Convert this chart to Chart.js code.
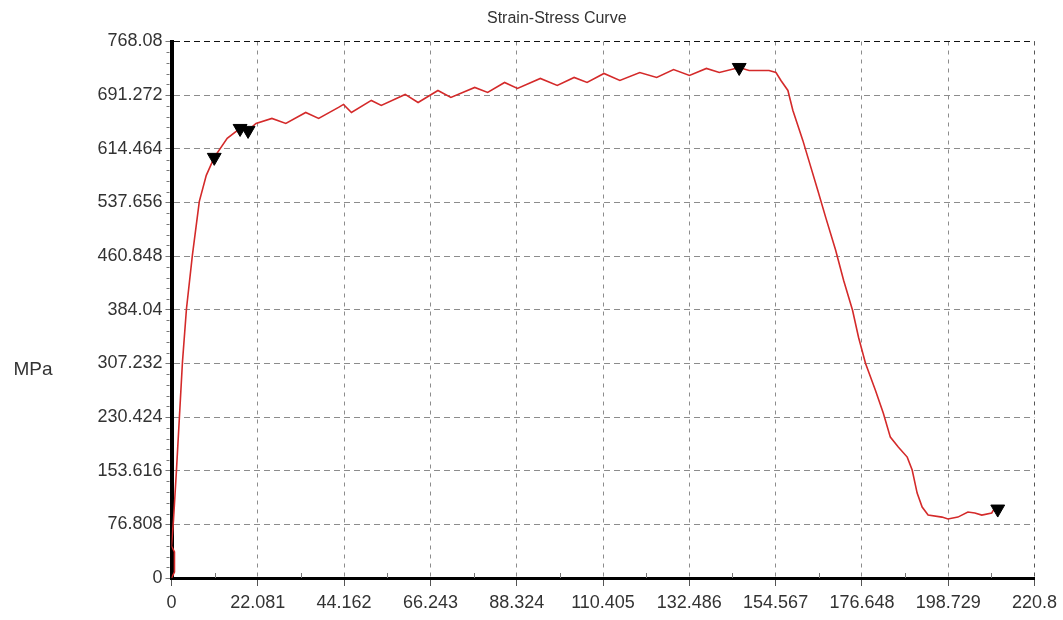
<!DOCTYPE html>
<html><head><meta charset="utf-8">
<script src="https://cdn.jsdelivr.net/npm/chart.js@4/dist/chart.umd.min.js"></script>
<style>html,body{margin:0;padding:0;background:#fff;}#wrap{position:relative;width:1063px;height:620px;}</style>
</head><body><div id="wrap"><canvas id="c" width="1063" height="620"></canvas></div>
<script>
const chartTitle = 'Strain-Stress Curve';
const yAxisLabel = 'MPa';
const xTickValues = [0, 22.081, 44.162, 66.243, 88.324, 110.405, 132.486, 154.567, 176.648, 198.729, 220.8];
const xTickLabels = ['0', '22.081', '44.162', '66.243', '88.324', '110.405', '132.486', '154.567', '176.648', '198.729', '220.8'];
const yTickValues = [0, 76.808, 153.616, 230.424, 307.232, 384.04, 460.848, 537.656, 614.464, 691.272, 768.08];
const yTickLabels = ['0', '76.808', '153.616', '230.424', '307.232', '384.04', '460.848', '537.656', '614.464', '691.272', '768.08'];
const strain = [0, 0.76, 0.76, 0, 0.51, 1.27, 2.04, 2.80, 3.82, 5.34, 7.12, 8.90, 10.94, 14.25, 17.55, 19.59, 21.62, 25.69, 29.25, 34.34, 37.65, 42.74, 44.01, 46.04, 51.13, 53.67, 59.78, 63.09, 68.17, 71.48, 77.59, 80.89, 85.22, 88.52, 94.37, 98.70, 103.02, 106.33, 110.65, 114.72, 119.81, 124.14, 128.46, 132.53, 136.86, 140.16, 145.25, 147.79, 152.88, 154.66, 155.93, 157.71, 158.99, 161.53, 163.06, 165.35, 167.38, 169.93, 171.96, 174.25, 175.78, 177.56, 180.10, 182.13, 183.92, 185.95, 188.24, 189.51, 190.78, 192.06, 193.58, 197.14, 198.67, 201.21, 203.76, 205.54, 207.32, 209.86, 210.63];
const stress = [0, 8.6, 37.2, 45.8, 83.0, 154.5, 231.7, 308.9, 384.8, 462.0, 539.2, 576.4, 602.2, 629.4, 643.6, 640.8, 650.8, 658.0, 650.8, 666.5, 658.0, 673.7, 678.0, 666.5, 683.7, 676.5, 692.3, 680.8, 698.0, 688.0, 702.3, 695.1, 709.4, 700.9, 715.2, 705.1, 716.6, 709.4, 722.3, 712.3, 723.7, 716.6, 728.0, 719.5, 729.5, 723.7, 730.9, 726.6, 726.6, 723.7, 712.3, 698.0, 669.4, 626.5, 597.9, 555.0, 516.3, 469.1, 426.2, 383.3, 344.7, 307.5, 268.9, 236.0, 201.7, 187.4, 173.1, 154.5, 121.6, 101.6, 90.1, 87.2, 84.4, 87.2, 94.4, 93.0, 90.1, 93.0, 100.1];
const markerStrain = [10.94, 17.55, 19.59, 145.25, 211.4];
const markerStress = [602.2, 643.6, 640.8, 730.9, 98.7];

const curvePts = strain.map((x, i) => ({x: x, y: stress[i]}));
const markerPts = markerStrain.map((x, i) => ({x: x, y: markerStress[i]}));
const FONT = '"Liberation Sans", Arial, sans-serif';

const decor = {
  id: 'decor',
  afterDraw(chart) {
    const ctx = chart.ctx;
    const xs = chart.scales.x, ys = chart.scales.y;
    const a = chart.chartArea;
    ctx.save();
    // minor ticks on x axis (inward)
    ctx.strokeStyle = '#777';
    ctx.lineWidth = 1;
    for (let i = 0; i < xTickValues.length - 1; i++) {
      const m = (xTickValues[i] + xTickValues[i + 1]) / 2;
      const px = Math.round(xs.getPixelForValue(m)) + 0.5;
      ctx.beginPath(); ctx.moveTo(px, a.bottom); ctx.lineTo(px, a.bottom - 5); ctx.stroke();
    }
    // minor ticks on y axis
    for (let i = 0; i < yTickValues.length - 1; i++) {
      for (let k = 1; k < 5; k++) {
        const v = yTickValues[i] + (yTickValues[i + 1] - yTickValues[i]) * k / 5;
        const py = Math.round(ys.getPixelForValue(v)) + 0.5;
        ctx.beginPath(); ctx.moveTo(a.left - 2, py); ctx.lineTo(a.left - 5, py); ctx.stroke();
      }
    }
    // title and y label
    ctx.fillStyle = '#333';
    ctx.font = '16px ' + FONT;
    ctx.textAlign = 'left';
    ctx.textBaseline = 'middle';
    ctx.fillText(chartTitle, 487, 19);
    ctx.font = '19px ' + FONT;
    ctx.textAlign = 'center';
    ctx.fillText(yAxisLabel, 33, 370);
    ctx.restore();
  }
};

new Chart(document.getElementById('c'), {
  type: 'scatter',
  data: {
    datasets: [
      {label: 'curve', data: curvePts, showLine: true, borderColor: '#d42a2a', borderWidth: 1.6,
       pointRadius: 0, tension: 0, order: 2},
      {label: 'markers', data: markerPts, showLine: false, pointStyle: 'triangle', rotation: 180,
       pointRadius: 8, backgroundColor: '#000', borderColor: '#000', borderWidth: 1, order: 1}
    ]
  },
  options: {
    responsive: false,
    animation: false,
    layout: {padding: {top: 41.5, right: 24.5, left: 0, bottom: 0}},
    plugins: {legend: {display: false}, title: {display: false}, tooltip: {enabled: false}},
    scales: {
      x: {
        type: 'linear', min: 0, max: 220.8,
        afterBuildTicks: s => { s.ticks = xTickValues.map(v => ({value: v})); },
        afterFit: s => { s.height = 42; },
        ticks: {autoSkip: false, maxRotation: 0, padding: 6, color: '#333',
          font: {family: FONT, size: 18},
          callback: (v, i) => xTickLabels[i]},
        grid: {color: c => (c.index === xTickValues.length - 1 ? '#555' : '#8c8c8c'), lineWidth: 1,
          drawTicks: true, tickLength: 8, tickColor: '#555', tickWidth: 1},
        border: {display: true, color: '#000', width: 3, dash: [4, 5]}
      },
      y: {
        type: 'linear', min: 0, max: 768.08,
        afterBuildTicks: s => { s.ticks = yTickValues.map(v => ({value: v})); },
        afterFit: s => { s.width = 171.5; },
        ticks: {autoSkip: false, padding: 3, color: '#333',
          font: {family: FONT, size: 18},
          callback: (v, i) => yTickLabels[i]},
        grid: {color: c => (c.index === yTickValues.length - 1 ? '#111' : '#8c8c8c'), lineWidth: 1,
          drawTicks: true, tickLength: 6, tickColor: '#777', tickWidth: 1},
        border: {display: true, color: '#000', width: 4, dash: [6, 4]}
      }
    }
  },
  plugins: [decor]
});
</script></body></html>
